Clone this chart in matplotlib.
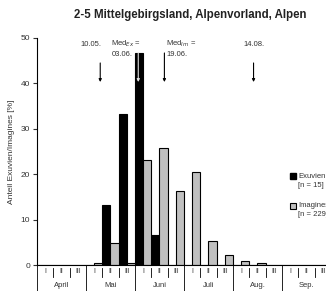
import matplotlib
matplotlib.use("Agg")
import matplotlib.pyplot as plt
import numpy as np

plt.rcParams.update({"font.family": ["Liberation Sans", "DejaVu Sans"], "font.size": 6})

# decades (I, II, III) from April to September
months = ["April", "Mai", "Juni", "Juli", "Aug.", "Sep."]
decades = ["I", "II", "III"]

# share per decade [%]
exuvien = [0, 0, 0, 0, 13.3, 33.3, 46.7, 6.7, 0, 0, 0, 0, 0, 0, 0, 0, 0, 0]
imagines = [0, 0, 0, 0.4, 4.8, 0.4, 23.1, 25.8, 16.2, 20.5, 5.2, 2.2, 0.9, 0.4, 0, 0, 0, 0]

# marked dates (month index, day, days in month)
marks = [
    ("10.05.", 1, 10, 31),
    ("Med$_{Ex}$ =\n03.06.", 2, 3, 30),
    ("Med$_{Im}$ =\n19.06.", 2, 19, 30),
    ("14.08.", 4, 14, 31),
]


def date_pos(m, d, n):
    return m * 3 + 3 * (d - 1) / n


def main():
    fig = plt.figure(figsize=(3.26, 2.91), dpi=100)
    ax = fig.add_axes([37 / 326, 26 / 291, 294 / 326, 227 / 291])

    x = np.arange(len(exuvien))
    ax.bar(x, exuvien, width=0.5, align="edge", color="black", edgecolor="black", linewidth=0.8)
    ax.bar(x + 0.5, imagines, width=0.5, align="edge", color="#c0c0c0", edgecolor="black", linewidth=0.8)

    ax.set_xlim(0, 18)
    ax.set_ylim(0, 50)
    ax.set_yticks(range(0, 51, 10))
    ax.tick_params(axis="y", length=3, width=0.8, pad=2, labelsize=6, colors="#333333")
    ax.tick_params(axis="x", bottom=False, labelbottom=False)
    for s in ["top", "right"]:
        ax.spines[s].set_visible(False)
    ax.spines["left"].set_linewidth(0.8)
    ax.spines["bottom"].set_linewidth(0.8)
    ax.set_ylabel("Anteil Exuvien/Imagines [%]", fontsize=6, color="#333333", labelpad=4)

    # decade / month table below the axis
    for i in range(18):
        ax.text(i + 0.5, -1.4, decades[i % 3], ha="center", va="center", fontsize=5, color="#333333")
        if i % 3:
            ax.plot([i, i], [-0.6, -2.6], color="black", lw=0.6, clip_on=False)
    for m, name in enumerate(months):
        ax.text(m * 3 + 1.5, -4.5, name, ha="center", va="center", fontsize=5.5, color="#333333")
        ax.plot([m * 3, m * 3], [0, -6], color="black", lw=0.6, clip_on=False)

    # date arrows
    for label, m, d, n in marks:
        xp = date_pos(m, d, n)
        inside = "Med$_{Ex}$" in label
        top = 46.7 if "Med" in label else 44.5
        ax.annotate("", xy=(xp, 40.3), xytext=(xp, top),
                    arrowprops=dict(arrowstyle="-|>", lw=0.8, mutation_scale=4,
                                    shrinkA=0, shrinkB=0,
                                    color="#e0e0e0" if inside else "black"))
        if "Med" in label:
            lx = xp - 1.65 if inside else xp + 0.1
            ax.text(lx, 47.7, label, ha="left", va="center", fontsize=5.5, color="#333333", linespacing=1.4)
        elif m == 1:
            ax.text(xp + 0.05, 48.6, label, ha="right", va="center", fontsize=5.5, color="#333333")
        else:
            ax.text(xp, 48.6, label, ha="center", va="center", fontsize=5.5, color="#333333")

    # legend
    ax.plot([15.7], [19.6], "s", ms=4, color="black", clip_on=False)
    ax.text(16.0, 19.6, "Exuvien", va="center", fontsize=5.5, color="#333333")
    ax.text(16.0, 17.6, "[n = 15]", va="center", fontsize=5.5, color="#333333")
    ax.plot([15.7], [13.0], "s", ms=4, mfc="#c0c0c0", mec="black", mew=0.8, clip_on=False)
    ax.text(16.0, 13.0, "Imagines", va="center", fontsize=5.5, color="#333333")
    ax.text(16.0, 11.2, "[n = 229]", va="center", fontsize=5.5, color="#333333")

    fig.text(190 / 326, 1 - 15 / 291, "2-5 Mittelgebirgsland, Alpenvorland, Alpen",
             ha="center", va="center", fontsize=8.3, fontweight="bold", color="#222222")

    fig.savefig("out.png", dpi=100)


if __name__ == "__main__":
    main()
